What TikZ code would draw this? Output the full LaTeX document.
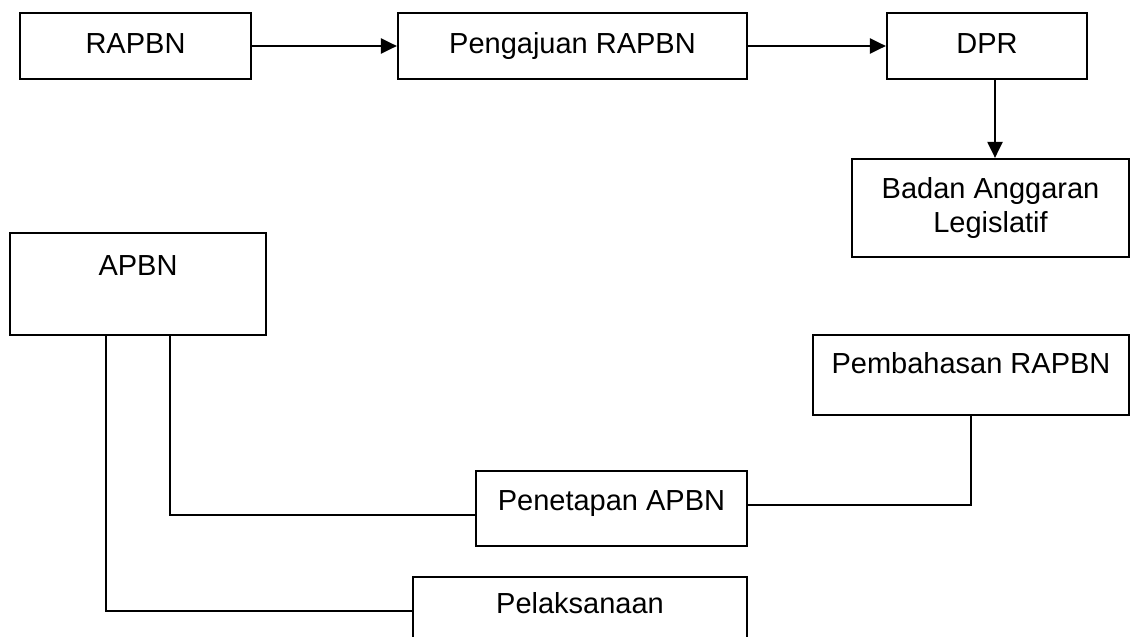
\documentclass[tikz,border=0pt]{standalone}
\usepackage{fontspec}
\setmainfont{Liberation Sans}
\usetikzlibrary{arrows.meta}
\tikzset{
    box/.style={draw=black, line width=2.2pt, inner sep=0pt, align=center, font=\fontsize{29}{34}\selectfont},
    lift/.style={text height=21pt, text depth=#1},
    arr/.style={line width=2.2pt, -{Triangle[length=16pt,width=15pt]}},
    link/.style={line width=2pt}
}
\begin{document}
\begin{tikzpicture}[x=1pt, y=-1pt]
            \useasboundingbox (0,0) rectangle (1130,637);
            \clip (0,0) rectangle (1130,637);
            % top row
            \node[box, lift=7pt, minimum width=231pt, minimum height=66pt] (rapbn) at (135.5,46) {RAPBN};
            \node[box, lift=7pt, minimum width=349pt, minimum height=66pt] (pengajuan) at (572.5,46) {Pengajuan RAPBN};
            \node[box, lift=7pt, minimum width=200pt, minimum height=66pt] (dpr) at (987,46) {DPR};
            \node[box, minimum width=277pt, minimum height=98pt] (badan) at (990.5,208) {Badan Anggaran\\Legislatif};
            % lower part
            \node[box, lift=38pt, minimum width=256pt, minimum height=102pt] (apbn) at (138,284) {APBN};
            \node[box, lift=24pt, minimum width=316pt, minimum height=80pt] (pembahasan) at (971,375) {Pembahasan RAPBN};
            \node[box, lift=17pt, minimum width=271pt, minimum height=75pt] (penetapan) at (611.5,508.5) {Penetapan APBN};
            \node[box, lift=16pt, minimum width=334pt, minimum height=68pt] (pelaksanaan) at (580,611) {Pelaksanaan};

            \draw[arr] (rapbn.east) -- (pengajuan.west);
            \draw[arr] (pengajuan.east) -- (dpr.west);
            \draw[arr] ([xshift=8pt]dpr.south) -- ([xshift=8pt]dpr.south |- badan.north);
            \draw[link] ([xshift=97pt]apbn.south west) |- (pelaksanaan.west);
            \draw[link] ([xshift=161pt]apbn.south west) |- ([yshift=-6.5pt]penetapan.west);
            \draw[link] (pembahasan.south) |- ([yshift=3.5pt]penetapan.east);
\end{tikzpicture}
\end{document}
